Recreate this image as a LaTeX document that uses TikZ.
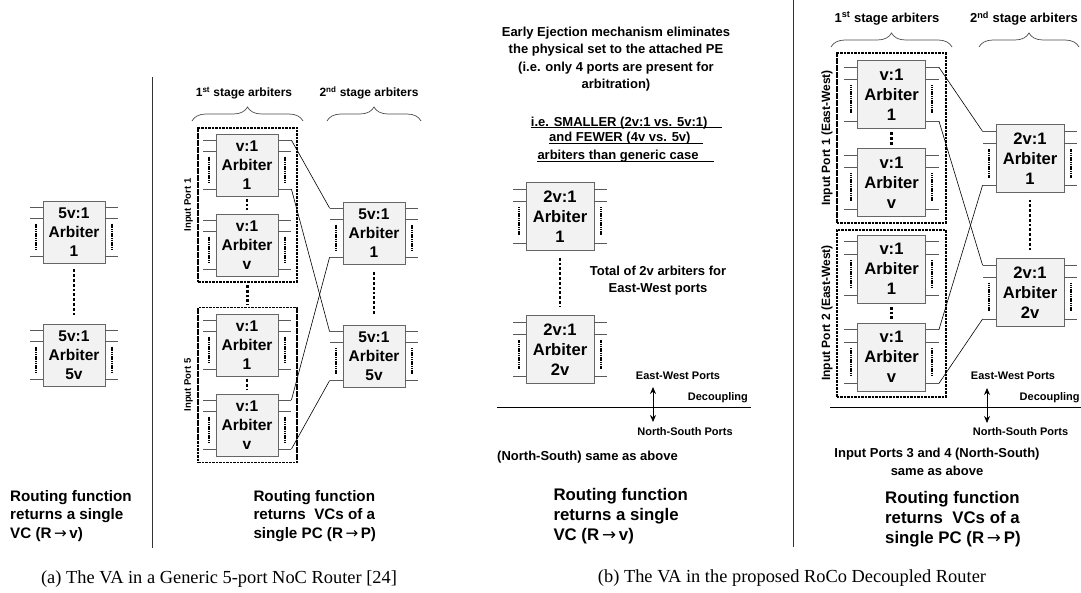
\documentclass[tikz,border=0pt]{standalone}
\usepackage{fontspec}
\setmainfont{Liberation Serif}
\setsansfont{Liberation Sans}
\newfontfamily\arrfont{DejaVu Sans}
\newcommand\ra{{\arrfont\mdseries→}}
\usetikzlibrary{decorations.pathreplacing,arrows.meta}

\tikzset{
  arbbox/.style={draw=black!60, fill=black!5, line width=0.8pt, align=center, inner sep=0pt,
    font=\fontsize{15.5}{19}\selectfont\sffamily\bfseries},
  arbboxb/.style={arbbox, font=\fontsize{16.6}{20}\selectfont\sffamily\bfseries},
  stub/.style={draw=black!65, line width=0.8pt},
  tick/.style={line width=2pt, dash pattern=on 1.2pt off 0.6pt},
  vdots/.style={line width=2.8pt, dash pattern=on 2.8pt off 2pt},
  portbox/.style={draw, line width=1.9pt, dash pattern=on 2.6pt off 0.9pt, minimum width=99},
  wire/.style={line width=0.6pt},
  twoway/.style={line width=0.8pt, {Stealth[length=7pt,width=6pt]}-{Stealth[length=7pt,width=6pt]}},
  brace/.style={decorate, decoration={brace, amplitude=14pt}, draw=black!70, line width=0.7pt},
  sep/.style={draw=black!80, line width=0.8pt},
  lab/.style={inner sep=0pt, font=\fontsize{11}{13}\selectfont\sffamily\bfseries},
  stage/.style={inner sep=0pt, font=\fontsize{12}{14}\selectfont\sffamily\bfseries},
  port/.style={inner sep=0pt, rotate=90, font=\fontsize{9.5}{11}\selectfont\sffamily\bfseries},
  note/.style={inner sep=0pt, align=center, font=\fontsize{13}{17.2}\selectfont\sffamily\bfseries},
  route/.style={inner sep=0pt, align=left, anchor=west, font=\fontsize{15.2}{18.3}\selectfont\sffamily\bfseries},
  routeb/.style={route, font=\fontsize{16.8}{20}\selectfont\sffamily\bfseries},
  capt/.style={inner sep=0pt, font=\fontsize{18.4}{22}\selectfont\rmfamily}
}

% arbiter box with its input/output stubs
\newcommand\arbiter[5][arbbox]{%
  \node[#1, minimum size=#4] (#2) at (#3) {#5};
  \foreach \f/\k in {0.105/1,0.285/2,0.895/3}{%
    \draw[stub] ([yshift=-\f*#4]#2.north west) -- ++(-13,0) coordinate (#2-l\k);
    \draw[stub] ([yshift=-\f*#4]#2.north east) -- ++(13,0) coordinate (#2-r\k);
  }%
  \draw[tick] ([xshift=-6.5,yshift=-0.37*#4]#2.north west) -- ([xshift=-6.5,yshift=-0.79*#4]#2.north west);
  \draw[tick] ([xshift=6.5,yshift=-0.37*#4]#2.north east) -- ([xshift=6.5,yshift=-0.79*#4]#2.north east);
}

\begin{document}
\begin{tikzpicture}[x=1pt,y=-1pt]
\useasboundingbox (0,0) rectangle (1081,593);

% (a) generic router, single VC
\arbiter{g1}{74,232}{62}{5v:1\\Arbiter\\1}
\arbiter{g5v}{74,355}{62}{5v:1\\Arbiter\\5v}
\draw[vdots] ([yshift=-6]g1.south) -- ([yshift=7]g5v.north);
\node[route] (rg) at (10,516) {Routing function\\returns a single\\VC (R\,\ra\,v)};

\coordinate (sa0) at (152,77);
\coordinate (sa1) at (152,548);
\draw[sep] (sa0) -- (sa1);

% (a) generic router, VCs of a PC
\node[portbox, minimum height=154] (pa1) at (247.8,205) {};
\node[portbox, minimum height=155] (pa5) at (247.8,385) {};
\node[port] (lpa1) at (188.5,205) {Input Port 1};
\node[port] (lpa5) at (188.5,385) {Input Port 5};
\arbiter{a11}{247,165}{62}{v:1\\Arbiter\\1}
\arbiter{a1v}{247,245}{62}{v:1\\Arbiter\\v}
\arbiter{a51}{247,345}{62}{v:1\\Arbiter\\1}
\arbiter{a5v}{247,425}{62}{v:1\\Arbiter\\v}
\draw[vdots] ([yshift=-2.5]a11.south) -- ([yshift=3.5]a1v.north);
\draw[vdots] ([yshift=-2.5]a51.south) -- ([yshift=3.5]a5v.north);
\draw[vdots] ([yshift=-2]pa1.south) -- ([yshift=2]pa5.north);

\arbiter{s1}{374,233}{62}{5v:1\\Arbiter\\1}
\arbiter{s5v}{374,356.5}{62}{5v:1\\Arbiter\\5v}
\draw[vdots] ([yshift=-8]s1.south) -- ([yshift=10]s5v.north);

\draw[wire] (a11-r1) -- (s1-l1);
\draw[wire] (a11-r3) -- (s5v-l1);
\draw[wire] (a5v-r1) -- (s1-l3);
\draw[wire] (a5v-r3) -- (s5v-l3);

\draw[brace] (192,121) -- (303,121);
\draw[brace] (327,121) -- (421,121);
\node[stage] (sta1) at (244,93) {1\textsuperscript{st} stage arbiters};
\node[stage] (sta2) at (369,93) {2\textsuperscript{nd} stage arbiters};

\node[route] (ra) at (253.3,516) {Routing function\\returns\ \ VCs of a\\single PC (R\,\ra\,P)};
\node[capt] (capa) at (219,579) {(a) The VA in a Generic 5-port NoC Router [24]};

% (b) RoCo router, single VC
\node[note] (eject) at (616,59.2) {Early Ejection mechanism eliminates\\the physical set to the attached PE\\(i.e. only 4 ports are present for\\arbitration)};
\node[note, anchor=base west] (u1) at (530.7,126.3) {i.e. SMALLER (2v:1 vs. 5v:1)};
\node[note, anchor=base west] (u2) at (549,142) {and FEWER (4v vs. 5v)};
\node[note, anchor=base west] (u3) at (537.3,159.6) {arbiters than generic case};
\draw[wire] ([yshift=-1.5]u1.base west) -- ++(191,0);
\draw[wire] ([yshift=-1.5]u2.base west) -- ++(153.7,0);
\draw[wire] ([yshift=-1.5]u3.base west) -- ++(176.7,0);

\arbiter[arbboxb]{e1}{560,216.5}{68}{2v:1\\Arbiter\\1}
\arbiter[arbboxb]{e2v}{560,349.7}{68}{2v:1\\Arbiter\\2v}
\draw[vdots] ([yshift=-7]e1.south) -- ([yshift=9]e2v.north);
\node[note, font=\fontsize{13}{17.6}\selectfont\sffamily\bfseries] (tot) at (658,280.5) {Total of 2v arbiters for\\East-West ports};

\coordinate (dl0) at (497,407);
\coordinate (dl1) at (751,407);
\draw[wire] (dl0) -- (dl1);
\coordinate (ewl) at (653,387);
\coordinate (nsl) at (653,422);
\draw[twoway] (ewl) -- (nsl);
\node[lab] (ewtl) at (678,376) {East-West Ports};
\node[lab, anchor=east] (dctl) at (748,398) {Decoupling};
\node[lab] (nstl) at (685,432) {North-South Ports};
\node[note, anchor=west] (same1) at (497,457) {(North-South) same as above};
\node[routeb] (rb1) at (553.3,516.5) {Routing function\\returns a single\\VC (R\,\ra\,v)};

\coordinate (sb0) at (793,0);
\coordinate (sb1) at (793,547);
\draw[sep] (sb0) -- (sb1);

% (b) RoCo router, VCs of a PC
\draw[brace] (831,47) -- (952,47);
\draw[brace] (979,47) -- (1079,47);
\node[stage, font=\fontsize{13}{15}\selectfont\sffamily\bfseries] (stb1) at (887,18.3) {1\textsuperscript{st} stage arbiters};
\node[stage, font=\fontsize{13}{15}\selectfont\sffamily\bfseries] (stb2) at (1024,18.3) {2\textsuperscript{nd} stage arbiters};

\node[portbox, minimum width=109, minimum height=169.5] (pb1) at (891.2,138.2) {};
\node[portbox, minimum width=109, minimum height=167] (pb2) at (891.2,313.3) {};
\node[port, font=\fontsize{12}{14}\selectfont\sffamily\bfseries] (lpb1) at (827,138) {Input Port 1 (East-West)};
\node[port, font=\fontsize{12}{14}\selectfont\sffamily\bfseries] (lpb2) at (827,313) {Input Port 2 (East-West)};
\arbiter[arbboxb]{b11}{891.5,94.5}{68}{v:1\\Arbiter\\1}
\arbiter[arbboxb]{b1v}{891.5,182.5}{68}{v:1\\Arbiter\\v}
\arbiter[arbboxb]{b21}{891.5,269}{68}{v:1\\Arbiter\\1}
\arbiter[arbboxb]{b2v}{891.5,357}{68}{v:1\\Arbiter\\v}
\draw[vdots] ([yshift=-3.5]b11.south) -- ([yshift=3]b1v.north);
\draw[vdots] ([yshift=-3.5]b21.south) -- ([yshift=3]b2v.north);

\arbiter[arbboxb]{t1}{1030,158.7}{68}{2v:1\\Arbiter\\1}
\arbiter[arbboxb]{t2v}{1030,292.5}{68}{2v:1\\Arbiter\\2v}
\draw[vdots] ([yshift=-6.5]t1.south) -- ([yshift=8.5]t2v.north);

\draw[wire] (b11-r1) -- (t1-l1);
\draw[wire] (b11-r3) -- (t2v-l1);
\draw[wire] (b2v-r1) -- (t1-l3);
\draw[wire] (b2v-r3) -- (t2v-l3);

\coordinate (dr0) at (830,407);
\coordinate (dr1) at (1081,407);
\draw[wire] (dr0) -- (dr1);
\coordinate (ewr) at (987,388);
\coordinate (nsr) at (987,423);
\draw[twoway] (ewr) -- (nsr);
\node[lab] (ewtr) at (1013,376) {East-West Ports};
\node[lab, anchor=west] (dctr) at (1019.5,398) {Decoupling};
\node[lab] (nstr) at (1020.5,432) {North-South Ports};
\node[note, font=\fontsize{13}{18.7}\selectfont\sffamily\bfseries] (same2) at (937,462) {Input Ports 3 and 4 (North-South)\\same as above};
\node[routeb] (rb2) at (885,519.3) {Routing function\\returns\ \ VCs of a\\single PC (R\,\ra\,P)};
\node[capt] (capb) at (792,578.3) {(b) The VA in the proposed RoCo Decoupled Router};
\end{tikzpicture}
\end{document}
